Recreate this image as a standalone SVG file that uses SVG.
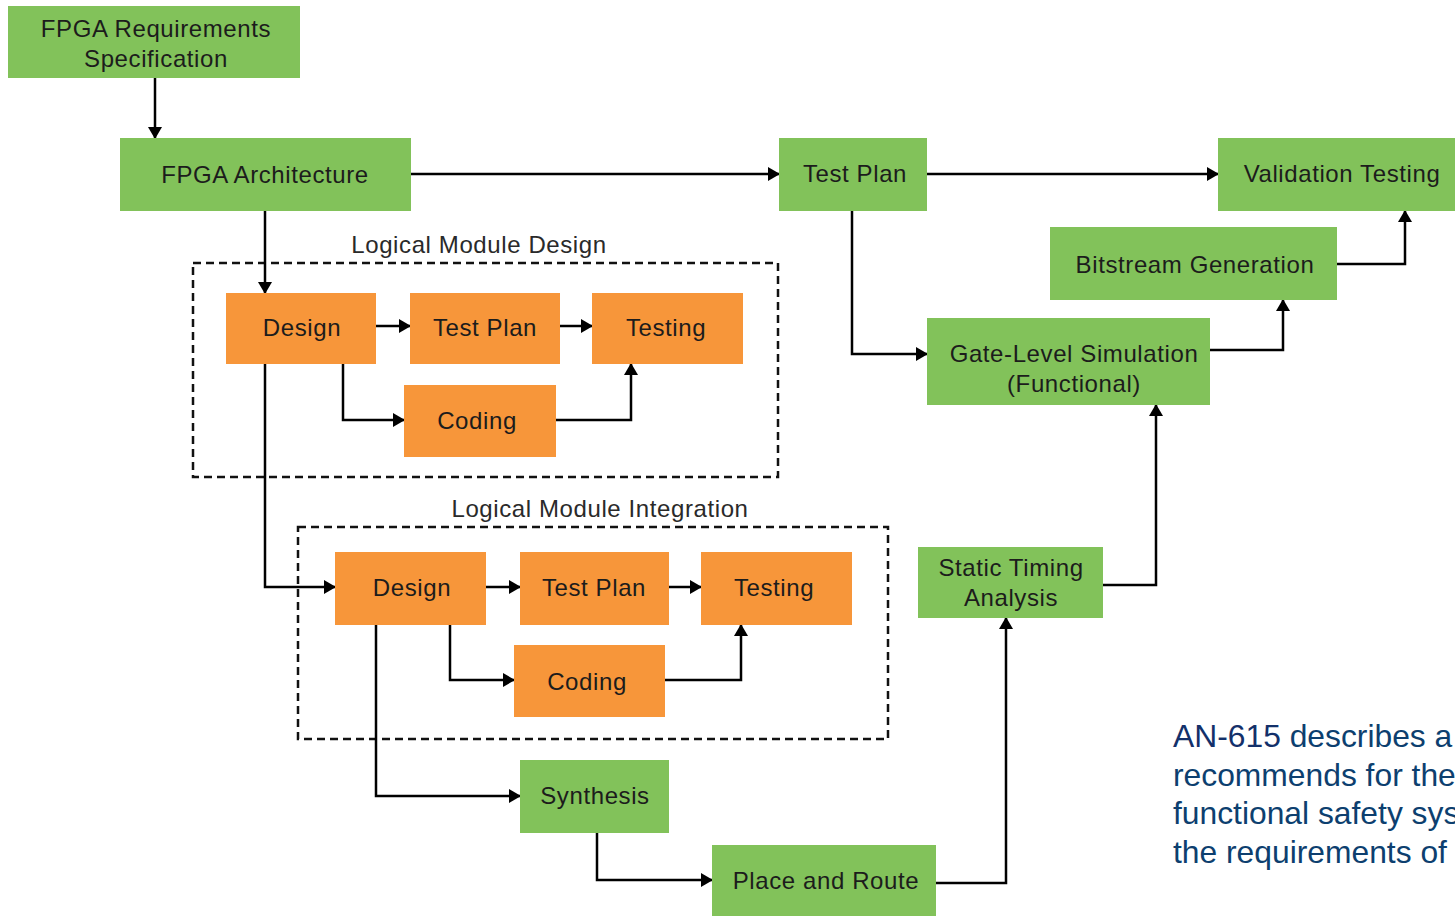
<svg xmlns="http://www.w3.org/2000/svg" width="1455" height="916" viewBox="0 0 1455 916">
  <style>
    .g { fill: #82c25a; }
    .o { fill: #f7963a; }
    .t { font-family: "Liberation Sans", Arial, sans-serif; font-size: 24px; fill: #1c1c1c; text-anchor: middle; dominant-baseline: central; letter-spacing: 0.6px; }
    .lbl { font-family: "Liberation Sans", Arial, sans-serif; font-size: 24px; fill: #2a2a2a; text-anchor: middle; letter-spacing: 0.6px; }
    .c { fill: none; stroke: #000; stroke-width: 2.5; marker-end: url(#ah); }
    .dash { fill: none; stroke: #111; stroke-width: 2.5; stroke-dasharray: 8 5; }
    .note { font-family: "Liberation Sans", Arial, sans-serif; font-size: 31.8px; fill: #0d3f6f; }
  </style>
  <defs>
    <marker id="ah" markerWidth="12" markerHeight="14" viewBox="0 0 12 14" refX="11" refY="7" orient="auto" markerUnits="userSpaceOnUse">
      <path d="M0,0 L12,7 L0,14 Z" fill="#000"/>
    </marker>
  </defs>
  <rect width="1455" height="916" fill="#fff"/>

  <!-- dashed group frames -->
  <g id="frame-design">
    <rect class="dash" x="193" y="263" width="585" height="214"/>
    <text class="lbl" x="479" y="253">Logical Module Design</text>
  </g>
  <g id="frame-integration">
    <rect class="dash" x="298" y="527" width="590" height="212"/>
    <text class="lbl" x="600" y="517">Logical Module Integration</text>
  </g>

  <!-- connectors -->
  <g id="connectors">
    <path class="c" d="M155,78 V138"/>
    <path class="c" d="M411,174 H779"/>
    <path class="c" d="M927,174 H1218"/>
    <path class="c" d="M1337,264 H1405 V211"/>
    <path class="c" d="M852,211 V354 H927"/>
    <path class="c" d="M1210,350 H1283 V300"/>
    <path class="c" d="M1103,585 H1156 V405"/>
    <path class="c" d="M936,883 H1006 V618"/>
    <path class="c" d="M597,833 V880 H712"/>
    <path class="c" d="M265,211 V293"/>
    <path class="c" d="M376,326 H410"/>
    <path class="c" d="M560,326 H592"/>
    <path class="c" d="M343,364 V420 H404"/>
    <path class="c" d="M556,420 H631 V364"/>
    <path class="c" d="M265,364 V587 H335"/>
    <path class="c" d="M486,587 H520"/>
    <path class="c" d="M669,587 H701"/>
    <path class="c" d="M450,625 V680 H514"/>
    <path class="c" d="M665,680 H741 V625"/>
    <path class="c" d="M376,625 V796 H520"/>
  </g>

  <!-- top-level flow -->
  <g id="req-spec">
    <rect class="g" x="8" y="6" width="292" height="72"/>
    <text class="t" x="156" y="28">FPGA Requirements</text>
    <text class="t" x="156" y="58">Specification</text>
  </g>
  <g id="architecture">
    <rect class="g" x="120" y="138" width="291" height="73"/>
    <text class="t" x="265" y="174">FPGA Architecture</text>
  </g>
  <g id="test-plan">
    <rect class="g" x="779" y="138" width="148" height="73"/>
    <text class="t" x="855" y="173">Test Plan</text>
  </g>
  <g id="validation">
    <rect class="g" x="1218" y="138" width="240" height="73"/>
    <text class="t" x="1342" y="173">Validation Testing</text>
  </g>
  <g id="bitstream">
    <rect class="g" x="1050" y="227" width="287" height="73"/>
    <text class="t" x="1195" y="264">Bitstream Generation</text>
  </g>
  <g id="gate-sim">
    <rect class="g" x="927" y="318" width="283" height="87"/>
    <text class="t" x="1074" y="353">Gate-Level Simulation</text>
    <text class="t" x="1074" y="383">(Functional)</text>
  </g>
  <g id="sta">
    <rect class="g" x="918" y="547" width="185" height="71"/>
    <text class="t" x="1011" y="567">Static Timing</text>
    <text class="t" x="1011" y="597">Analysis</text>
  </g>
  <g id="synthesis">
    <rect class="g" x="520" y="760" width="149" height="73"/>
    <text class="t" x="595" y="795">Synthesis</text>
  </g>
  <g id="place-route">
    <rect class="g" x="712" y="845" width="224" height="71"/>
    <text class="t" x="826" y="880">Place and Route</text>
  </g>

  <!-- logical module design -->
  <g id="lmd-design">
    <rect class="o" x="226" y="293" width="150" height="71"/>
    <text class="t" x="302" y="327">Design</text>
  </g>
  <g id="lmd-testplan">
    <rect class="o" x="410" y="293" width="150" height="71"/>
    <text class="t" x="485" y="327">Test Plan</text>
  </g>
  <g id="lmd-testing">
    <rect class="o" x="592" y="293" width="151" height="71"/>
    <text class="t" x="666" y="327">Testing</text>
  </g>
  <g id="lmd-coding">
    <rect class="o" x="404" y="385" width="152" height="72"/>
    <text class="t" x="477" y="420">Coding</text>
  </g>

  <!-- logical module integration -->
  <g id="lmi-design">
    <rect class="o" x="335" y="552" width="151" height="73"/>
    <text class="t" x="412" y="587">Design</text>
  </g>
  <g id="lmi-testplan">
    <rect class="o" x="520" y="552" width="149" height="73"/>
    <text class="t" x="594" y="587">Test Plan</text>
  </g>
  <g id="lmi-testing">
    <rect class="o" x="701" y="552" width="151" height="73"/>
    <text class="t" x="774" y="587">Testing</text>
  </g>
  <g id="lmi-coding">
    <rect class="o" x="514" y="645" width="151" height="72"/>
    <text class="t" x="587" y="681">Coding</text>
  </g>

  <!-- side note -->
  <g id="note">
    <text class="note" x="1173" y="747"><tspan fill="#13306a">AN-615</tspan> describes a</text>
    <text class="note" x="1173" y="786">recommends for the</text>
    <text class="note" x="1173" y="824">functional safety sys</text>
    <text class="note" x="1173" y="863">the requirements of</text>
  </g>
</svg>
